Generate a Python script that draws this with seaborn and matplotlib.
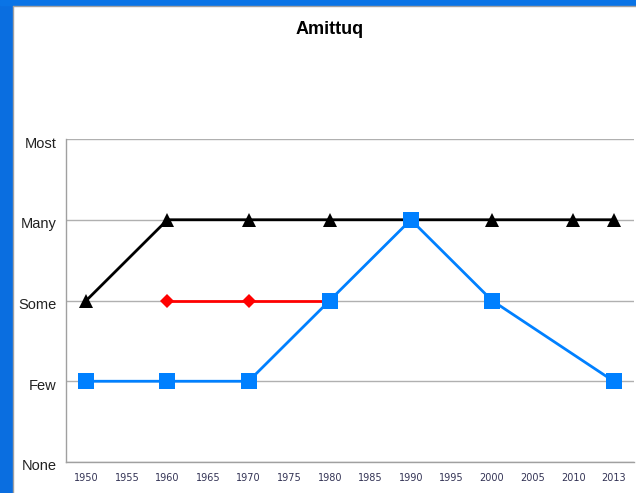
import numpy as np
import pandas as pd
import matplotlib
matplotlib.use("Agg")
import matplotlib.pyplot as plt
import matplotlib.transforms as mtransforms
import seaborn as sns

# Category axis (years) and ordinal level labels
years = ["1950", "1955", "1960", "1965", "1970", "1975", "1980",
         "1985", "1990", "1995", "2000", "2005", "2010", "2013"]
levels = ["None", "Few", "Some", "Many", "Most"]

# Series values on the 0..4 ordinal scale (NaN = no observation)
black_vals = [2, np.nan, 3, np.nan, 3, np.nan, 3, np.nan, 3, np.nan, 3, np.nan, 3, 3]
red_vals = [np.nan, np.nan, 2, np.nan, 2, np.nan, 2, np.nan, np.nan, np.nan, np.nan, np.nan, np.nan, np.nan]
blue_vals = [1, np.nan, 1, np.nan, 1, np.nan, 2, np.nan, 3, np.nan, 2, np.nan, np.nan, 1]

sns.set_theme(style="white")
plt.rcParams["font.family"] = ["Liberation Sans", "DejaVu Sans"]

fig = plt.figure(figsize=(6.36, 4.93), dpi=100)

# Window frame: blue band on the left and top with a thin grey inner edge
W, H = 636, 493
fig.patches.append(plt.Rectangle((0, 0), 12 / W, 1, transform=fig.transFigure,
                                 color="#0a6ee0", zorder=0))
fig.patches.append(plt.Rectangle((0, 1 - 5 / H), 1, 5 / H, transform=fig.transFigure,
                                 color="#0a74e6", zorder=0))
fig.add_artist(plt.Line2D([12.5 / W, 12.5 / W], [0, 1 - 5.5 / H], transform=fig.transFigure,
                          color="#a0a0a0", lw=1))
fig.add_artist(plt.Line2D([12.5 / W, 1], [1 - 5.5 / H, 1 - 5.5 / H], transform=fig.transFigure,
                          color="#a0a0a0", lw=1))

ax = fig.add_axes([66 / W, 1 - 462 / H, 568 / W, 323 / H])

pos = np.arange(len(years))
series = [
    (black_vals, "black", "^", 10),
    (red_vals, "#ff0000", "D", 7),
    (blue_vals, "#0080ff", "s", 11),
]
for i, (vals, color, marker, ms) in enumerate(series):
    df = pd.DataFrame({"pos": pos, "val": vals}).dropna()
    sns.lineplot(data=df, x="pos", y="val", ax=ax, color=color, lw=2,
                 marker=marker, markersize=ms, markeredgewidth=0,
                 zorder=3 + i, clip_on=False)

ax.set_xlim(-0.5, len(years) - 0.5)
ax.set_ylim(0, 4)
ax.set_xticks(pos)
ax.set_xticklabels(years, fontsize=7, color="#333355", family=["DejaVu Sans"])
ax.set_yticks(range(len(levels)))
ax.set_yticklabels(levels, fontsize=10.5, color="#222222")
ax.tick_params(axis="x", length=0, pad=8)
ax.tick_params(axis="y", length=0, pad=7)
ax.set_xlabel("")
ax.set_ylabel("")

# level labels sit a few pixels below their gridlines
shift = mtransforms.ScaledTranslation(0, -3 / 100, fig.dpi_scale_trans)
for lbl in ax.get_yticklabels():
    lbl.set_transform(lbl.get_transform() + shift)

ax.yaxis.grid(True, color="#b0b0b0", lw=1)
ax.xaxis.grid(False)
for side in ["left", "bottom"]:
    ax.spines[side].set_color("#a0a0a0")
    ax.spines[side].set_linewidth(1)
for side in ["top", "right"]:
    ax.spines[side].set_visible(False)

fig.text(330 / W, 1 - 30 / H, "Amittuq", ha="center", va="center",
         fontsize=13, fontweight="bold", color="black")

fig.savefig("out.png", dpi=100)
